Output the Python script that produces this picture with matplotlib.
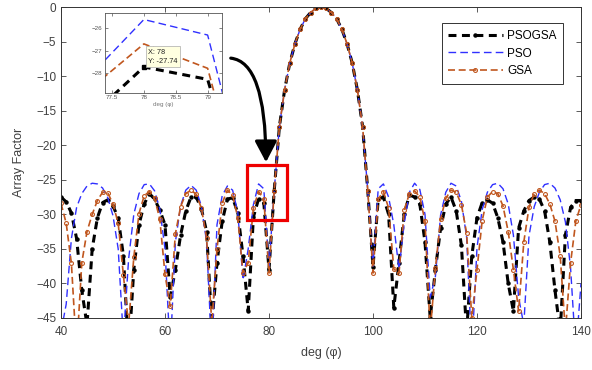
import numpy as np
import matplotlib
matplotlib.use("Agg")
import matplotlib.pyplot as plt
from matplotlib.patches import Rectangle, FancyArrowPatch

plt.rcParams["font.family"] = ["Liberation Sans", "DejaVu Sans"]

# ---- data (1 deg steps from 40 to 140) ----
deg = np.arange(40, 141)

main_lobe = [-26.6, -17.3, -12, -8.1, -5.3, -3.2, -1.7, -0.8, -0.2, 0,
             -0.2, -0.8, -1.7, -3.2, -5.3, -8.1, -12, -17.3, -26.6]  # 81..99

pso_left = [-47, -43, -33.5, -29, -27, -25.9, -25.5, -25.6, -26.2, -27.6,
            -30.2, -35, -48, -36.5, -30, -27, -25.7, -25.6, -26.6, -29.2,
            -35, -50, -34, -28.8, -26.5, -25.8, -26.5, -28.8, -34, -50,
            -31.5, -27.3, -25.9, -26.5, -29.7, -39.5, -35, -28.6, -25.6, -26.3,
            -37.5]  # 40..80
pso_right = [-37.5, -26.3, -25.6, -27.5, -31.5, -38, -31.3, -26.8, -25.5, -26.4,
             -30, -42, -39, -30.1, -26.8, -25.5, -25.9, -28.1, -33.3, -50,
             -34.8, -29.3, -26.8, -25.7, -25.5, -26.3, -28.5, -33, -42, -46,
             -33.1, -28.9, -26.8, -25.7, -25.5, -26.2, -27.9, -31.1, -37.8, -50,
             -40]  # 100..140

gsa_left = [-28.4, -31.3, -37.1, -50, -37, -32.5, -30, -28, -26.8, -26.9,
            -28.5, -31.3, -38.8, -46, -36.2, -29.9, -27.3, -26.7, -27.7, -30.7,
            -38.7, -43.3, -32.8, -28.9, -27, -26.5, -27.1, -29.1, -33.4, -45.8,
            -35, -28.4, -26.5, -27.2, -30.5, -38.5, -37, -29.1, -26.7, -27.8,
            -38.5]
gsa_right = [-38.5, -27.8, -26.7, -29.1, -37.9, -38.5, -29.4, -27, -26.6, -27.5,
             -31, -47, -37.8, -30.7, -27.7, -26.5, -26.8, -28.6, -32.7, -45,
             -38, -30.9, -27.5, -26.7, -27, -28.8, -32.5, -38, -44, -34,
             -29, -27, -26.5, -27, -28.5, -31, -36, -47, -37, -31,
             -28.6]

psogsa_left = [-27.5, -28.2, -29.8, -33.5, -41, -46, -35, -30.5, -28.3, -27.9,
               -28.8, -30.5, -36, -50, -38, -31.5, -28.5, -27, -27.8, -29.4,
               -31.5, -42, -38, -33, -29.5, -27.5, -27.5, -29.2, -32.5, -46,
               -37, -31, -27.8, -27.6, -29.8, -36, -44, -30.4, -27.74, -28.3,
               -38]
psogsa_right = [-37.6, -27.8, -27.5, -30, -43.5, -37, -30, -27.2, -27.5, -28.5,
                -34, -45, -38, -32, -28.5, -27.5, -29.5, -34.5, -47, -36,
                -30.5, -28.3, -27.9, -28.4, -30.5, -34, -40, -44, -32, -29.5,
                -28, -27.5, -27.8, -29.5, -34, -41, -47, -33, -29, -28,
                -28]

psogsa = np.array(psogsa_left + main_lobe + psogsa_right)
pso = np.array(pso_left + main_lobe + pso_right)
gsa = np.array(gsa_left + main_lobe + gsa_right)

tip_x, tip_y = 78, -27.74

C_BLACK = "#000000"
C_BLUE = "#3030ff"
C_BROWN = "#c0561e"
C_TEXT = "#404040"


def draw_curves(ax, markers=True):
    ax.plot(deg, psogsa, color=C_BLACK, lw=2.2, linestyle=(0, (2.6, 1.8)),
            marker="o" if markers else None, ms=2.2, mfc=C_BLACK, mec=C_BLACK,
            label="PSOGSA")
    ax.plot(deg, pso, color=C_BLUE, lw=1.0, linestyle=(0, (5.5, 3)),
            label="PSO")
    ax.plot(deg, gsa, color=C_BROWN, lw=1.2, linestyle=(0, (4.2, 2.2)),
            marker="o" if markers else None, ms=2.8, mfc="none", mec=C_BROWN,
            mew=0.8, label="GSA")


fig = plt.figure(figsize=(5.92, 3.70), dpi=100)
ax = fig.add_axes([61 / 592, 1 - 318 / 370, 520 / 592, 311 / 370])
draw_curves(ax)

ax.set_xlim(40, 140)
ax.set_ylim(-45, 0)
ax.set_xticks([40, 60, 80, 100, 120, 140])
ax.set_yticks(np.arange(-45, 1, 5))
ax.tick_params(direction="in", top=True, right=True, length=3.5, width=0.6,
               labelsize=8.5, colors=C_TEXT)
ax.tick_params(axis="x", pad=6)
for s in ax.spines.values():
    s.set_linewidth(0.7)
    s.set_color("#333333")
ax.set_xlabel("deg (φ)", fontsize=9, color=C_TEXT, labelpad=6)
ax.set_ylabel("Array Factor", fontsize=9, color=C_TEXT, labelpad=8)

leg = ax.legend(loc="upper right", bbox_to_anchor=(0.966, 0.948), borderaxespad=0,
                fontsize=8.5, handlelength=4.6, handletextpad=0.4, fancybox=False,
                edgecolor="#333333", framealpha=1, borderpad=0.55, labelspacing=0.5)
leg.get_frame().set_linewidth(0.7)

# zoom box on the main plot
ax.add_patch(Rectangle((75.8, -30.8), 7.7, 7.9, fill=False, edgecolor="#ee0000",
                       lw=2.3, zorder=5))

# inset
axin = fig.add_axes([105 / 592, 1 - 92.7 / 370, 117.3 / 592, 79.4 / 370])
draw_curves(axin, markers=False)
axin.set_xlim(77.39, 79.23)
axin.set_ylim(-28.9, -25.32)
axin.set_xticks([77.5, 78, 78.5, 79])
axin.set_xticklabels(["77.5", "78", "78.5", "79"])
axin.set_yticks([-28, -27, -26])
axin.tick_params(direction="in", top=True, right=True, length=2, width=0.5,
                 labelsize=4.5, colors="#555555", pad=2)
for s in axin.spines.values():
    s.set_linewidth(0.6)
    s.set_color("#555555")
axin.set_xlabel("deg (φ)", fontsize=4.5, color="#777777", labelpad=1)
axin.plot([tip_x], [tip_y], "s", color="black", ms=3.5, zorder=6)
axin.text(78.07, -27.64, f"X: {tip_x}\nY: {tip_y}", fontsize=5.3, va="bottom",
          ha="left", linespacing=1.35, color="#222222",
          bbox=dict(boxstyle="square,pad=0.35", fc="#ffffe0", ec="#aaaaaa", lw=0.5),
          zorder=7)

# curved arrow from inset to zoom box (figure pixels)
arrow = FancyArrowPatch((228 / 592, 1 - 58 / 370), (266 / 592, 1 - 165 / 370),
                        transform=fig.transFigure,
                        connectionstyle="angle3,angleA=0,angleB=90",
                        arrowstyle="-|>,head_length=0.8,head_width=0.42",
                        mutation_scale=16, lw=2.3, color="black", zorder=10)
fig.patches.append(arrow)

fig.savefig("out.png", dpi=100)
